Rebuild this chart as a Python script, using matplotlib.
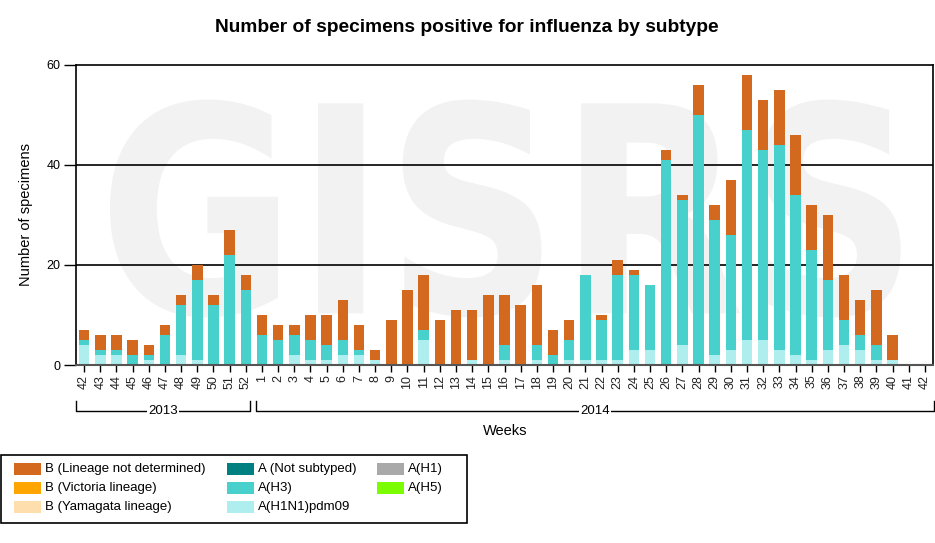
"""Stacked weekly bars of influenza positives by subtype (GISRS style)."""
import matplotlib
matplotlib.use("Agg")
import matplotlib.pyplot as plt
import numpy as np
from matplotlib.font_manager import FontProperties
from matplotlib.patches import PathPatch, Rectangle
from matplotlib.textpath import TextPath
from matplotlib.transforms import Affine2D

plt.rcParams["font.family"] = ["Liberation Sans", "DejaVu Sans"]

# --- data -----------------------------------------------------------------
weeks_2013 = [str(w) for w in range(42, 53)]
weeks_2014 = [str(w) for w in range(1, 43)]
week_labels = weeks_2013 + weeks_2014

h1n1pdm09 = [4, 2, 2, 0, 1, 0, 2, 1, 0, 0, 0,
             0, 0, 2, 1, 1, 2, 2, 1, 0, 0, 5, 0, 0, 1, 0, 1, 0, 1, 0, 1,
             1, 1, 1, 3, 3, 0, 4, 0, 2, 3, 5, 5, 3, 2, 1, 3, 4, 3, 1, 1, 0, 0]
h3 = [1, 1, 1, 2, 1, 6, 10, 16, 12, 22, 15,
      6, 5, 4, 4, 3, 3, 1, 0, 0, 0, 2, 0, 0, 0, 0, 3, 0, 3, 2, 4,
      17, 8, 17, 15, 13, 41, 29, 50, 27, 23, 42, 38, 41, 32, 22, 14, 5, 3, 3, 0, 0, 0]
b_undetermined = [2, 3, 3, 3, 2, 2, 2, 3, 2, 5, 3,
                  4, 3, 2, 5, 6, 8, 5, 2, 9, 15, 11, 9, 11, 10, 14, 10, 12, 12, 5, 4,
                  0, 1, 3, 1, 0, 2, 1, 6, 3, 11, 11, 10, 11, 12, 9, 13, 9, 7, 11, 5, 0, 0]

legend_labels = ["B (Lineage not determined)", "B (Victoria lineage)", "B (Yamagata lineage)",
                 "A (Not subtyped)", "A(H3)", "A(H1N1)pdm09",
                 "A(H1)", "A(H5)"]
legend_colors = ["#D2691E", "#FFA500", "#FFDEAD",
                 "#008080", "#48D1CC", "#AFEEEE",
                 "#A9A9A9", "#7CFC00"]
C_B, C_H3, C_PDM = "#D2691E", "#48D1CC", "#AFEEEE"

# --- figure ---------------------------------------------------------------
W, H = 935, 543
fig = plt.figure(figsize=(W / 100, H / 100), dpi=100)
ax = fig.add_axes([76 / W, (H - 365) / H, 857 / W, 300.5 / H])

x = np.arange(len(week_labels))
pdm = np.array(h1n1pdm09)
a3 = np.array(h3)
bnd = np.array(b_undetermined)

ax.set_xlim(-0.5, len(x) - 0.5)
ax.set_ylim(0, 60)

# faint "GISRS" watermark behind the bars, squeezed into a box
tp = TextPath((0, 0), "GISRS", size=1, prop=FontProperties(family="DejaVu Sans", weight="bold"))
ext = tp.get_extents()
x0, x1, y0, y1 = 1.6, 50.5, 9.5, 53.0
tr = (Affine2D().translate(-ext.x0, -ext.y0)
      .scale((x1 - x0) / ext.width, (y1 - y0) / ext.height)
      .translate(x0, y0))
ax.add_patch(PathPatch(tr.transform_path(tp), color="#f2f2f2", lw=0, zorder=0))

for yv in (20, 40):
    ax.axhline(yv, color="black", lw=1.2, zorder=1)

bw = 0.65
ax.bar(x, pdm, bw, color=C_PDM, zorder=2)
ax.bar(x, a3, bw, bottom=pdm, color=C_H3, zorder=2)
ax.bar(x, bnd, bw, bottom=pdm + a3, color=C_B, zorder=2)

ax.set_xticks(x)
ax.set_xticklabels(week_labels, rotation=90, fontsize=9, color="#222222")
ax.set_yticks([0, 20, 40, 60])
ax.tick_params(axis="y", length=9, width=1, labelsize=9, pad=2)
ax.tick_params(axis="x", length=5, width=1, pad=2)
for s in ("left", "top", "right"):
    ax.spines[s].set_linewidth(1.2)
ax.spines["bottom"].set_color("#555555")
ax.spines["bottom"].set_linewidth(1.5)

ax.set_ylabel("Number of specimens", fontsize=10.5, labelpad=10)
fig.text(505 / W, 1 - 431 / H, "Weeks", ha="center", va="center", fontsize=10.5)
fig.text(467 / W, 1 - 28 / H, "Number of specimens positive for influenza by subtype",
         ha="center", va="center", fontsize=13.8, fontweight="bold")

# year brackets under the week labels
def year_bracket(px0, px1, label):
    ytop, ybot = 1 - 401 / H, 1 - 411 / H
    fig.add_artist(plt.Line2D([px0 / W, px0 / W, px1 / W, px1 / W],
                              [ytop, ybot, ybot, ytop], color="black", lw=1))
    fig.text((px0 + px1) / 2 / W, ybot, label, ha="center", va="center", fontsize=9.5,
             bbox=dict(facecolor="white", edgecolor="none", pad=1))

year_bracket(76, 250, "2013")
year_bracket(256, 934, "2014")

# legend box, laid out by hand in three columns
fig.add_artist(Rectangle((1 / W, 1 - 523 / H), 466 / W, 68 / H, transform=fig.transFigure,
                         facecolor="white", edgecolor="black", lw=1.2))
col_x = [14, 227, 377]
row_y = [469, 488, 507]
slots = [(0, 0), (0, 1), (0, 2), (1, 0), (1, 1), (1, 2), (2, 0), (2, 1)]
for (c, r), lab, col in zip(slots, legend_labels, legend_colors):
    px, py = col_x[c], row_y[r]
    fig.add_artist(Rectangle((px / W, 1 - (py + 6) / H), 27 / W, 12 / H,
                             transform=fig.transFigure, facecolor=col, edgecolor="none"))
    fig.text((px + 31) / W, 1 - py / H, lab, ha="left", va="center", fontsize=9.5)

fig.savefig("out.png", dpi=100)
